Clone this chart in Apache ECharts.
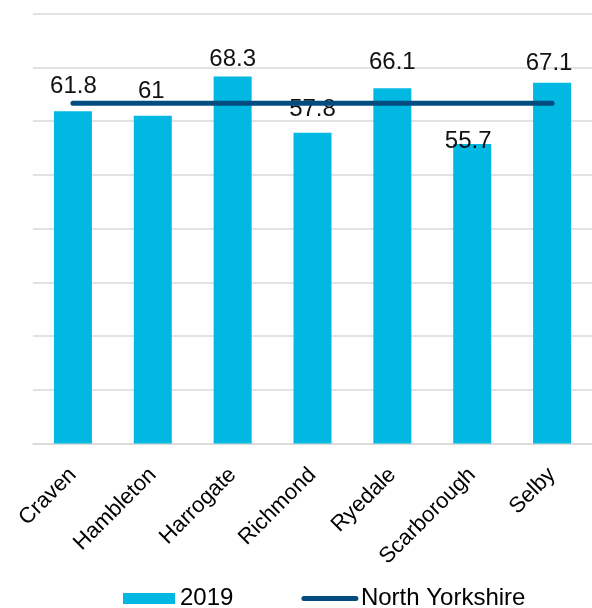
<!DOCTYPE html>
<html>
<head>
<meta charset="utf-8">
<script src="https://cdn.jsdelivr.net/npm/echarts@6/dist/echarts.min.js"></script>
<style>
  html, body { margin: 0; padding: 0; background: #fff; }
  #chart { width: 592px; height: 608px; }
</style>
</head>
<body>
<div id="chart"></div>
<script>
// Districts of North Yorkshire
const districts = ['Craven', 'Hambleton', 'Harrogate', 'Richmond', 'Ryedale', 'Scarborough', 'Selby'];
// 2019 value per district
const values2019 = [61.8, 61, 68.3, 57.8, 66.1, 55.7, 67.1];
// County-wide reference value
const northYorkshire = 63.3;
const countyLine = districts.map(() => northYorkshire);

// Per-label nudges (pixels) so labels sit clear of the county line
const labelNudges = [[0.5, -8.2], [-1.5, -7], [0, 0], [0, -6.2], [0, -8.5], [-4, 14.5], [-3, -2.5]];

const FONT = 'Liberation Sans, Arial, sans-serif';
const NAVY = '#034C80';

const chart = echarts.init(document.getElementById('chart'), null, { renderer: 'canvas' });
chart.setOption({
  animation: false,
  textStyle: { fontFamily: FONT },
  grid: { left: 33, top: 13.5, width: 564, height: 430, containLabel: false },
  legend: {
    left: 123,
    top: 586.5,
    padding: 0,
    itemWidth: 52,
    itemHeight: 11,
    itemGap: 68,
    textStyle: { fontFamily: FONT, fontSize: 24, color: '#000' },
    data: [
      { name: '2019', icon: 'rect' },
      {
        name: 'North Yorkshire',
        itemStyle: { color: 'rgba(0,0,0,0)', borderWidth: 0 },
        lineStyle: { color: NAVY, width: 5, cap: 'round' }
      }
    ]
  },
  xAxis: {
    type: 'category',
    data: districts,
    axisLine: { show: true, lineStyle: { color: '#d9d9d9', width: 1.5 } },
    axisTick: { show: false },
    axisLabel: {
      rotate: 45,
      margin: 28,
      interval: 0,
      fontFamily: FONT,
      fontSize: 22,
      color: '#000'
    }
  },
  yAxis: {
    type: 'value',
    min: 0,
    max: 80,
    interval: 10,
    axisLabel: { show: false },
    axisLine: { show: false },
    axisTick: { show: false },
    splitLine: { lineStyle: { color: '#d9d9d9', width: 1.5 } }
  },
  series: [
    {
      name: '2019',
      type: 'bar',
      barWidth: 38,
      itemStyle: { color: '#00B8E1' },
      data: values2019.map((v, i) => ({
        value: v,
        label: { offset: labelNudges[i] }
      })),
      label: {
        show: true,
        position: 'top',
        distance: 5,
        fontFamily: FONT,
        fontSize: 24,
        color: '#111'
      },
      z: 2
    },
    {
      name: 'North Yorkshire',
      type: 'line',
      data: countyLine,
      symbol: 'none',
      lineStyle: { color: NAVY, width: 5, cap: 'round' },
      itemStyle: { color: NAVY },
      z: 3
    }
  ]
});
</script>
</body>
</html>
